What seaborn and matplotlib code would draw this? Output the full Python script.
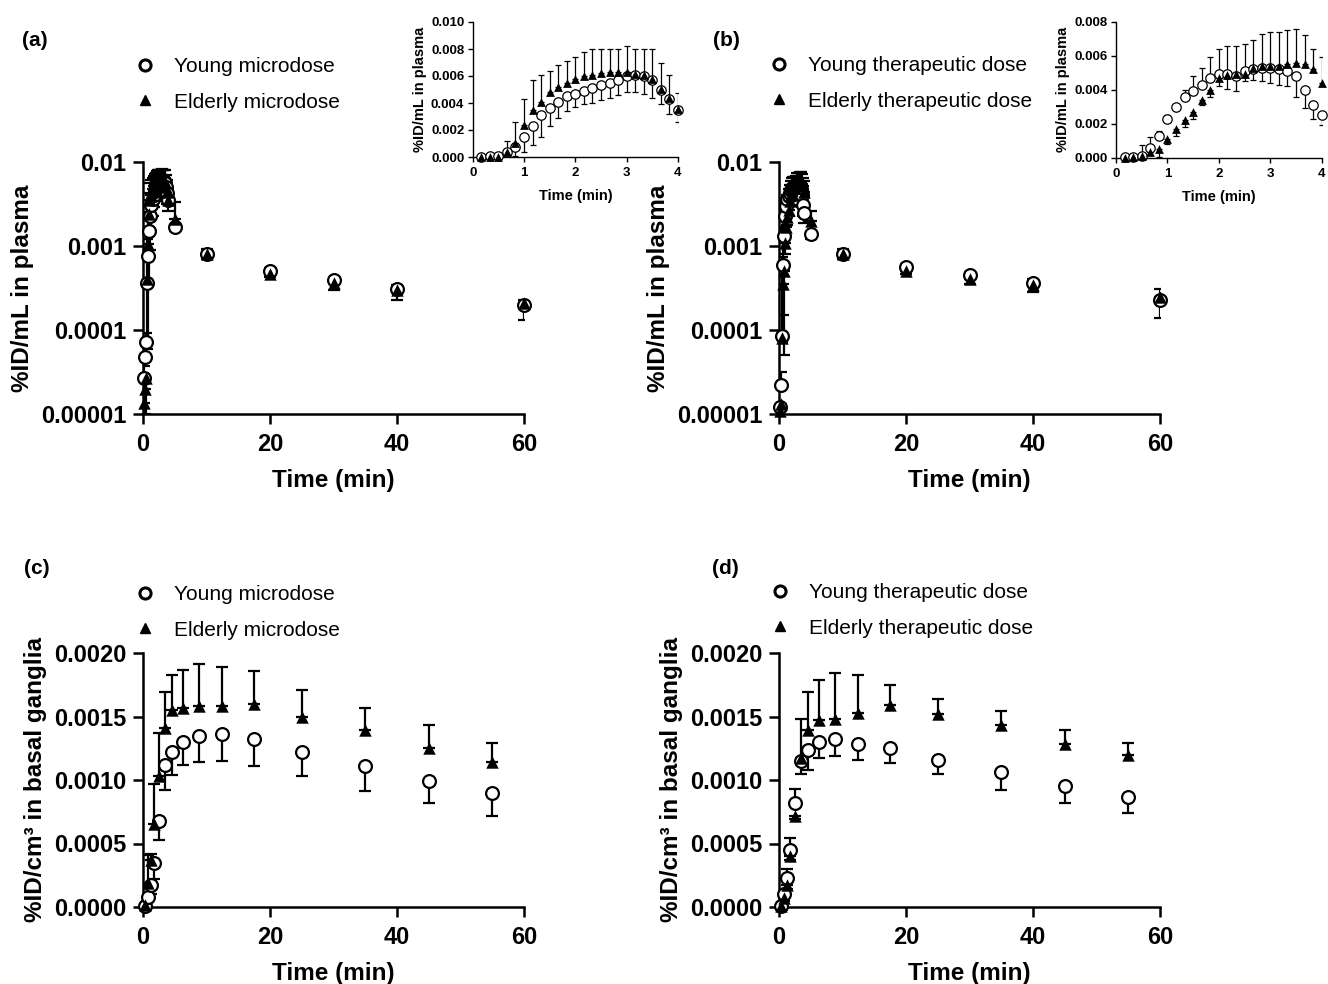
import numpy as np
import pandas as pd
import matplotlib
matplotlib.use('Agg')
import matplotlib.pyplot as plt
from matplotlib.lines import Line2D
from matplotlib.ticker import NullLocator
import seaborn as sns

sns.set_theme(style='ticks', rc={'axes.edgecolor': 'black', 'xtick.color': 'black',
                                 'ytick.color': 'black', 'text.color': 'black',
                                 'axes.labelcolor': 'black'})
plt.rcParams['font.family'] = ['Liberation Sans', 'DejaVu Sans']
plt.rcParams['font.weight'] = 'bold'
plt.rcParams['axes.labelweight'] = 'bold'

# ---- data ----
# plasma: 10 s frames up to 4 min, then 5-60 min samples
t_plasma = [0.167, 0.333, 0.5, 0.667, 0.833, 1.0, 1.167, 1.333, 1.5, 1.667, 1.833, 2.0,
            2.167, 2.333, 2.5, 2.667, 2.833, 3.0, 3.167, 3.333, 3.5, 3.667, 3.833, 4.0,
            5, 10, 20, 30, 40, 60]

young_micro_plasma = [2.7e-5, 4.8e-5, 7.1e-5, 3.6e-4, 7.7e-4, 0.0015, 0.0023, 0.0031, 0.0036,
                      0.0041, 0.0045, 0.0047, 0.0049, 0.0051, 0.0053, 0.0055, 0.0057, 0.0060,
                      0.0061, 0.0060, 0.0057, 0.0050, 0.0043, 0.0035,
                      0.0017, 0.00080, 0.00050, 0.00039, 0.00031, 0.00020]
young_micro_plasma_sd = [1e-5, 2e-5, 2e-5, 3e-4, 7e-4, 0.00115, 0.0014, 0.0016, 0.0013,
                         0.0012, 0.0011, 0.0010, 0.0010, 0.0011, 0.0011, 0.0011, 0.0011, 0.0012,
                         0.0013, 0.0013, 0.0013, 0.0011, 0.0011, 0.0009,
                         0.0002, 0.0001, 0.00005, 0.00003, 0.00003, 0.00007]
elderly_micro_plasma = [1.35e-5, 2.0e-5, 2.7e-5, 4.0e-4, 0.00106, 0.0024, 0.0035, 0.0041, 0.0048,
                        0.0052, 0.0055, 0.0058, 0.0060, 0.0061, 0.0062, 0.0063, 0.0063, 0.0063,
                        0.00615, 0.00605, 0.00575, 0.00505, 0.00435, 0.00355,
                        0.0021, 0.00081, 0.00047, 0.00036, 0.00030, 0.00021]
elderly_micro_plasma_sd = [5e-6, 1e-5, 2e-5, 8e-4, 0.0015, 0.0019, 0.0022, 0.0020, 0.0016,
                           0.0016, 0.0016, 0.0016, 0.0018, 0.0019, 0.0018, 0.0017, 0.0017, 0.0019,
                           0.00185, 0.00195, 0.00225, 0.0019, 0.0017, 0.0012,
                           0.0012, 0.00012, 0.00004, 0.00006, 0.00007, 0.00002]

young_ther_plasma = [1.2e-5, 2.2e-5, 8.5e-5, 5.9e-4, 0.0013, 0.0023, 0.0030, 0.0036, 0.0039,
                     0.0043, 0.0047, 0.0049, 0.0049, 0.0048, 0.0051, 0.0052, 0.0053, 0.0053,
                     0.0052, 0.0051, 0.0048, 0.0040, 0.0031, 0.0025,
                     0.0014, 0.00080, 0.00056, 0.00045, 0.00036, 0.00023]
young_ther_plasma_sd = [0, 1e-5, 6.5e-4, 6e-4, 3e-4, 2e-4, 1e-4, 4e-4, 9e-4,
                        1.0e-3, 1.2e-3, 1.5e-3, 1.7e-3, 9e-4, 1.6e-3, 6e-4, 8e-4, 9e-4,
                        9e-4, 9e-4, 1.2e-3, 1.1e-3, 8e-4, 6e-4,
                        2e-4, 1e-4, 5e-5, 4e-5, 4e-5, 9e-5]
elderly_ther_plasma = [1.1e-5, 1.3e-5, 8e-5, 3.5e-4, 5e-4, 0.0011, 0.0017, 0.0022, 0.0027,
                       0.0034, 0.0040, 0.0047, 0.00485, 0.0049, 0.0049, 0.0053, 0.0054, 0.0054,
                       0.0054, 0.0055, 0.0056, 0.0055, 0.0052, 0.0044,
                       0.0020, 0.00081, 0.00050, 0.00040, 0.00034, 0.00025]
elderly_ther_plasma_sd = [0, 0, 1e-5, 2e-4, 4.5e-4, 3e-4, 4e-4, 4e-4, 4e-4,
                          3e-4, 4e-4, 5e-4, 8e-4, 1.7e-3, 4e-4, 1.6e-3, 1.9e-3, 2.0e-3,
                          2.0e-3, 2.0e-3, 2.0e-3, 1.7e-3, 1.2e-3, 1.5e-3,
                          6e-4, 1e-4, 4e-5, 5e-5, 6e-5, 6e-5]

# basal ganglia: PET frame mid-times
t_brain = [0.25, 0.75, 1.25, 1.75, 2.5, 3.5, 4.5, 6.25, 8.75, 12.5, 17.5, 25, 35, 45, 55]

young_micro_bg = [1e-5, 8e-5, 1.7e-4, 3.5e-4, 6.8e-4, 1.12e-3, 1.22e-3, 1.30e-3, 1.35e-3,
                  1.36e-3, 1.32e-3, 1.22e-3, 1.11e-3, 0.99e-3, 0.90e-3]
young_micro_bg_sd = [1e-5, 3e-5, 7e-5, 1.3e-4, 1.5e-4, 2.0e-4, 1.8e-4, 1.8e-4, 2.1e-4,
                     2.1e-4, 2.1e-4, 1.9e-4, 2.0e-4, 1.7e-4, 1.8e-4]
elderly_micro_bg = [1.2e-5, 1.9e-4, 3.7e-4, 6.5e-4, 1.03e-3, 1.41e-3, 1.55e-3, 1.57e-3, 1.58e-3,
                    1.58e-3, 1.60e-3, 1.50e-3, 1.39e-3, 1.25e-3, 1.14e-3]
elderly_micro_bg_sd = [1e-5, 2.2e-4, 5e-5, 3.2e-4, 3.4e-4, 2.8e-4, 2.8e-4, 3.0e-4, 3.3e-4,
                       3.1e-4, 2.6e-4, 2.1e-4, 1.8e-4, 1.8e-4, 1.5e-4]

young_ther_bg = [1e-5, 1.0e-4, 2.3e-4, 4.5e-4, 8.2e-4, 1.15e-3, 1.24e-3, 1.30e-3, 1.32e-3,
                 1.28e-3, 1.25e-3, 1.16e-3, 1.06e-3, 0.95e-3, 0.87e-3]
young_ther_bg_sd = [0, 3e-5, 7e-5, 9e-5, 1.1e-4, 1.0e-4, 1.6e-4, 1.3e-4, 1.3e-4,
                    1.2e-4, 1.2e-4, 1.1e-4, 1.4e-4, 1.3e-4, 1.3e-4]
elderly_ther_bg = [5e-6, 7e-5, 1.7e-4, 4.0e-4, 7.2e-4, 1.17e-3, 1.39e-3, 1.47e-3, 1.48e-3,
                   1.53e-3, 1.59e-3, 1.52e-3, 1.43e-3, 1.28e-3, 1.20e-3]
elderly_ther_bg_sd = [0, 2e-5, 3e-5, 3e-5, 3e-5, 3.1e-4, 3.0e-4, 3.2e-4, 3.6e-4,
                      3.0e-4, 1.6e-4, 1.2e-4, 1.1e-4, 1.1e-4, 9e-5]

log_ticks = [1e-5, 1e-4, 1e-3, 1e-2]
log_ticklabels = ['0.00001', '0.0001', '0.001', '0.01']

W, H = 1328, 984
fig = plt.figure(figsize=(W / 100, H / 100), dpi=100)


def box(x0, x1, ytop, ybot):
    return [x0 / W, 1 - ybot / H, (x1 - x0) / W, (ybot - ytop) / H]


def draw(ax, t, ym, ysd, em, esd, big=True):
    t, ym, ysd, em, esd = map(np.asarray, (t, ym, ysd, em, esd))
    lw = 1.6 if big else 0.9
    cap = 4.3 if big else 2.4
    young_up = ym > em
    # the higher group gets its SD drawn upwards, the other one downwards
    for y, sd, up in [(ym, ysd, young_up), (em, esd, ~young_up)]:
        for m, direction in [(up, 'up'), (~up, 'down')]:
            if m.sum() == 0:
                continue
            z = np.zeros(m.sum())
            err = [z, sd[m]] if direction == 'up' else [sd[m], z]
            ax.errorbar(t[m], y[m], yerr=err, fmt='none', ecolor='black',
                        elinewidth=lw, capsize=cap, capthick=lw, zorder=2)
    df = pd.DataFrame({'t': t, 'young': ym, 'elderly': em})
    sns.scatterplot(data=df, x='t', y='young', ax=ax, marker='o', s=85 if big else 46,
                    color='white', edgecolor='black', linewidth=1.6 if big else 0.9,
                    zorder=3, clip_on=False, legend=False)
    sns.scatterplot(data=df, x='t', y='elderly', ax=ax, marker='^', s=80 if big else 40,
                    color='black', edgecolor='black', linewidth=0,
                    zorder=4, clip_on=False, legend=False)


def style(ax, big=True):
    sns.despine(ax=ax)
    for s in ['left', 'bottom']:
        ax.spines[s].set_linewidth(1.8 if big else 1.0)
    ax.tick_params(which='both', width=1.8 if big else 1.0, length=7 if big else 3.5,
                   labelsize=17 if big else 9.5, pad=5 if big else 2.5)
    ax.tick_params(axis='x', pad=7 if big else 4)


def legend(x_marker, y_top, labels):
    handles = [Line2D([], [], ls='', marker='o', ms=8, mfc='white', mec='black', mew=2.2),
               Line2D([], [], ls='', marker='^', ms=7.5, mfc='black', mec='black')]
    fs_px = 15 * 100 / 72
    fig.legend(handles, labels, loc='upper left',
               bbox_to_anchor=((x_marker - fs_px / 2) / W, 1 - y_top / H),
               bbox_transform=fig.transFigure, frameon=False, borderpad=0,
               borderaxespad=0, handlelength=1.0, handletextpad=0.87, labelspacing=0.8,
               prop={'size': 15, 'weight': 'normal'})


n_early = 24

# ---- plasma panels (a) and (b) ----
plasma_sets = [
    (box(143, 524, 162, 414), box(472.7, 678, 22, 157), 0.010,
     young_micro_plasma, young_micro_plasma_sd, elderly_micro_plasma, elderly_micro_plasma_sd),
    (box(779, 1160, 162, 414), box(1116, 1321.7, 21.7, 157.7), 0.008,
     young_ther_plasma, young_ther_plasma_sd, elderly_ther_plasma, elderly_ther_plasma_sd),
]
for main_box, inset_box, inset_top, ym, ysd, em, esd in plasma_sets:
    ax = fig.add_axes(main_box)
    ax.set_yscale('log')
    draw(ax, t_plasma, ym, ysd, em, esd)
    ax.set_xlim(0, 60)
    ax.set_ylim(1e-5, 1e-2)
    ax.set_xticks([0, 20, 40, 60])
    ax.set_yticks(log_ticks)
    ax.set_yticklabels(log_ticklabels)
    ax.yaxis.set_minor_locator(NullLocator())
    style(ax)
    ax.set_xlabel('Time (min)', fontsize=17.5, labelpad=9)
    ax.set_ylabel('%ID/mL in plasma', fontsize=17.5, labelpad=5)

    ins = fig.add_axes(inset_box)
    draw(ins, t_plasma[:n_early], ym[:n_early], ysd[:n_early], em[:n_early], esd[:n_early],
         big=False)
    ins.set_xlim(0, 4)
    ins.set_ylim(0, inset_top)
    ins.set_xticks([0, 1, 2, 3, 4])
    ins.set_yticks(np.arange(0, inset_top + 1e-9, 0.002))
    ins.set_yticklabels([f'{v:.3f}' for v in np.arange(0, inset_top + 1e-9, 0.002)])
    style(ins, big=False)
    ins.set_xlabel('Time (min)', fontsize=10.5, labelpad=7)
    ins.set_ylabel('%ID/mL in plasma', fontsize=10.5, labelpad=3)

# ---- basal ganglia panels (c) and (d) ----
bg_sets = [
    (box(143, 524, 653, 907), young_micro_bg, young_micro_bg_sd, elderly_micro_bg, elderly_micro_bg_sd),
    (box(779, 1160, 653, 907), young_ther_bg, young_ther_bg_sd, elderly_ther_bg, elderly_ther_bg_sd),
]
for bx, ym, ysd, em, esd in bg_sets:
    ax = fig.add_axes(bx)
    draw(ax, t_brain, ym, ysd, em, esd)
    ax.set_xlim(0, 60)
    ax.set_ylim(0, 0.002)
    ax.set_xticks([0, 20, 40, 60])
    ax.set_yticks([0, 0.0005, 0.001, 0.0015, 0.002])
    ax.set_yticklabels(['0.0000', '0.0005', '0.0010', '0.0015', '0.0020'])
    style(ax)
    ax.set_xlabel('Time (min)', fontsize=17.5, labelpad=9)
    ax.set_ylabel('%ID/cm³ in basal ganglia', fontsize=17.5, labelpad=5)

# ---- legends and panel letters ----
legend(145, 57, ['Young microdose', 'Elderly microdose'])
legend(779, 56, ['Young therapeutic dose', 'Elderly therapeutic dose'])
legend(145, 585, ['Young microdose', 'Elderly microdose'])
legend(780, 583, ['Young therapeutic dose', 'Elderly therapeutic dose'])

for letter, x, y in [('(a)', 22, 40), ('(b)', 713, 40), ('(c)', 24, 568), ('(d)', 712, 568)]:
    fig.text(x / W, 1 - y / H, letter, fontsize=15, fontweight='bold', va='center', ha='left')

fig.savefig('out.png', dpi=100)
